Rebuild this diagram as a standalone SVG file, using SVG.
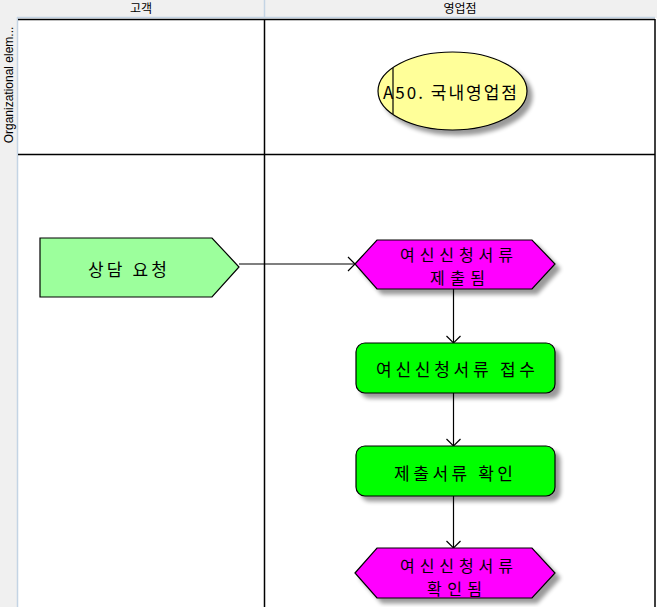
<svg xmlns="http://www.w3.org/2000/svg" width="657" height="607" viewBox="0 0 657 607">
<style>
.hdr{fill:#f0f0f0}
.hl{stroke:#c4d4e4;stroke-width:1.5;fill:none}
.grid{stroke:#000;stroke-width:1.5;fill:none}
.htxt{font-family:"Noto Sans CJK KR","Liberation Sans",sans-serif;font-size:12px;fill:#000}
.side{font-family:"Liberation Sans",Arial,sans-serif;font-size:12px;fill:#000}
.shape{stroke:#000;stroke-width:1.2}
.t{font-family:"Noto Sans CJK KR","Noto Sans",sans-serif;font-size:17px;fill:#000;text-anchor:middle}
.t2{font-family:"Noto Sans CJK KR","Noto Sans",sans-serif;font-size:16px;fill:#000;text-anchor:middle}
.conn{stroke:#000;stroke-width:1.2;fill:none}
</style>
<defs>
<filter id="sh" x="-20%" y="-20%" width="150%" height="160%">
<feGaussianBlur in="SourceAlpha" stdDeviation="2"/>
<feOffset dx="5" dy="5" result="b"/>
<feComponentTransfer in="b" result="s"><feFuncA type="linear" slope="0.4"/></feComponentTransfer>
<feMerge><feMergeNode in="s"/><feMergeNode in="SourceGraphic"/></feMerge>
</filter>
<marker id="arr" markerUnits="userSpaceOnUse" markerWidth="16" markerHeight="16" viewBox="0 0 16 16" refX="14" refY="8" orient="auto">
<path d="M7,1 L14,8 L7,15" fill="none" stroke="#000" stroke-width="1.2"/>
</marker>
</defs>
<rect width="657" height="607" fill="#fff"/>
<g id="headers">
<rect class="hdr" x="0" y="0" width="657" height="18"/>
<rect class="hdr" x="0" y="0" width="17" height="607"/>
<line class="hl" x1="17" y1="17.5" x2="655" y2="17.5"/>
<line class="hl" x1="17.5" y1="17" x2="17.5" y2="607"/>
<line class="hl" x1="264.5" y1="0" x2="264.5" y2="18"/>
<text class="htxt" x="141" y="13" text-anchor="middle">고객</text>
<text class="htxt" x="460" y="13" text-anchor="middle">영업점</text>
<text class="side" transform="translate(13,85) rotate(-90)" text-anchor="middle">Organizational elem...</text>
</g>
<g id="grid">
<line class="grid" x1="18" y1="19.5" x2="655" y2="19.5"/>
<line class="grid" x1="18" y1="154.5" x2="655" y2="154.5"/>
<line class="grid" x1="264.5" y1="19" x2="264.5" y2="607"/>
<line class="grid" x1="655" y1="19" x2="655" y2="607"/>
</g>
<g id="connectors">
<line class="conn" x1="239" y1="264" x2="355" y2="264" marker-end="url(#arr)"/>
<line class="conn" x1="453.5" y1="289" x2="453.5" y2="343" marker-end="url(#arr)"/>
<line class="conn" x1="453.5" y1="393" x2="453.5" y2="446" marker-end="url(#arr)"/>
<line class="conn" x1="453.5" y1="496" x2="453.5" y2="548" marker-end="url(#arr)"/>
</g>
<g id="n_org">
<ellipse class="shape" cx="452.5" cy="91" rx="74.5" ry="39" fill="#ffff99" filter="url(#sh)"/>
<line x1="393" y1="68" x2="393" y2="114" stroke="#000" stroke-width="1.2"/>
<text class="t" x="450" y="99" textLength="134" lengthAdjust="spacing">A50. 국내영업점</text>
</g>
<g id="n_request">
<polygon class="shape" points="40,238 212,238 239,267 212,297 40,297" fill="#9cff9c"/>
<text class="t" x="127.5" y="276" textLength="79" lengthAdjust="spacing">상담 요청</text>
</g>
<g id="n_submitted">
<polygon class="shape" points="355,264 377,240 532,240 555,264 532,289 377,289" fill="#ff00ff" filter="url(#sh)"/>
<text class="t2" x="456.5" y="260.5" textLength="113" lengthAdjust="spacing">여신신청서류</text>
<text class="t2" x="457.5" y="284" textLength="55" lengthAdjust="spacing">제출됨</text>
</g>
<g id="n_receive">
<rect class="shape" x="356" y="343" width="199" height="50" rx="9" fill="#00ff00" filter="url(#sh)"/>
<text class="t" x="455.5" y="376" textLength="159" lengthAdjust="spacing">여신신청서류 접수</text>
</g>
<g id="n_check">
<rect class="shape" x="356" y="446" width="199" height="50" rx="9" fill="#00ff00" filter="url(#sh)"/>
<text class="t" x="453.5" y="480" textLength="119" lengthAdjust="spacing">제출서류 확인</text>
</g>
<g id="n_checked">
<polygon class="shape" points="355,573 377,548 532,548 555,573 532,598 377,598" fill="#ff00ff" filter="url(#sh)"/>
<text class="t2" x="456.5" y="571.5" textLength="113" lengthAdjust="spacing">여신신청서류</text>
<text class="t2" x="454.5" y="595" textLength="55" lengthAdjust="spacing">확인됨</text>
</g>
</svg>
